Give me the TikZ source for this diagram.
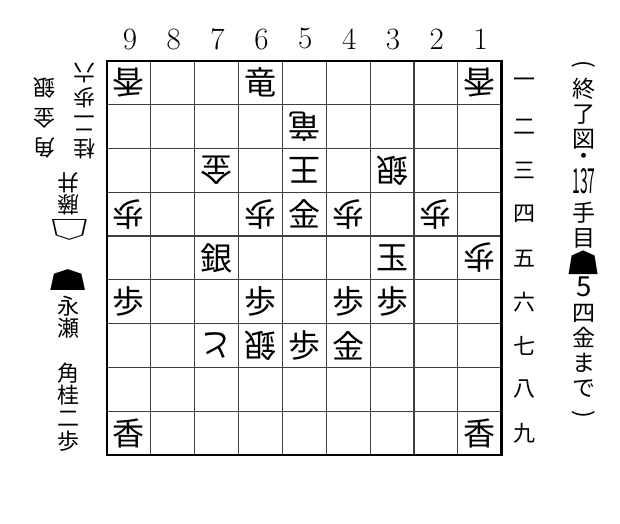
\documentclass[tikz,border=0pt]{standalone}
\usepackage{graphicx}
\usepackage{fontspec}
\newfontfamily\jp{Noto Sans CJK JP}
\usetikzlibrary{positioning}
\tikzset{
node distance=43.85pt, % one square of the board
piece/.style={font=\jp\fontsize{32}{32}\selectfont, inner sep=0pt}, % a piece of the player to move up
gote/.style={piece, rotate=180}, % the other player's pieces stand upside down
filenum/.style={font=\fontsize{31}{31}\selectfont, inner sep=0pt}, % 9 ... 1 above the board
ranknum/.style={font=\jp\fontsize{22}{22}\selectfont, inner sep=0pt}, % kanji numbers at the right
hand/.style={font=\jp\fontsize{22}{22.7}\selectfont, align=center, inner sep=0pt}, % names and pieces in hand
gotehand/.style={font=\jp\fontsize{22}{22}\selectfont, inner sep=0pt, rotate=180}, % one upside-down letter
gridline/.style={line width=1.1pt, black!75},
frame/.style={line width=2.4pt},
}
\newcommand{\wideblack}{\scalebox{2.0}[1.1]{☗}} % the pentagon marks are wider than the font's
\newcommand{\widewhite}{\scalebox{2.0}[1.1]{☖}}

\begin{document}
\begin{tikzpicture}[x=1pt, y=1pt]
        \useasboundingbox (0,0) rectangle (620,-523);

        % the board
        \begin{scope}[shift={(107,-455)}, x=43.85pt, y=43.8pt]
        \draw[gridline, xstep=43.85pt, ystep=43.8pt] (0,0) grid (9,9);
        \draw[frame] (0,0) rectangle (9,9);

        \node[gote] (p91) at (0.5,8.5) {香};
        \node[piece] (p61) at (3.5,8.5) {竜};
        \node[gote] (p11) at (8.5,8.5) {香};
        \node[gote] (p52) at (4.5,7.5) {竜};
        \node[gote] (p73) at (2.5,6.5) {金};
        \node[gote] (p53) at (4.5,6.5) {王};
        \node[gote] (p33) at (6.5,6.5) {銀};
        \node[gote] (p94) at (0.5,5.5) {歩};
        \node[gote] (p64) at (3.5,5.5) {歩};
        \node[piece] (p54) at (4.5,5.5) {金};
        \node[gote] (p44) at (5.5,5.5) {歩};
        \node[gote] (p24) at (7.5,5.5) {歩};
        \node[piece] (p75) at (2.5,4.5) {銀};
        \node[piece] (p35) at (6.5,4.5) {玉};
        \node[gote] (p15) at (8.5,4.5) {歩};
        \node[piece] (p96) at (0.5,3.5) {歩};
        \node[piece] (p66) at (3.5,3.5) {歩};
        \node[piece] (p46) at (5.5,3.5) {歩};
        \node[piece] (p36) at (6.5,3.5) {歩};
        \node[gote] (p77) at (2.5,2.5) {と};
        \node[gote] (p67) at (3.5,2.5) {銀};
        \node[piece] (p57) at (4.5,2.5) {歩};
        \node[piece] (p47) at (5.5,2.5) {金};
        \node[piece] (p99) at (0.5,0.5) {香};
        \node[piece] (p19) at (8.5,0.5) {香};
        \end{scope}

        % files and ranks
        \node[filenum] (c9) at (129.9,-39) {9};
        \node[filenum, right of=c9] (c8) {8};
        \node[filenum, right of=c8] (c7) {7};
        \node[filenum, right of=c7] (c6) {6};
        \node[filenum, right of=c6] (c5) {5};
        \node[filenum, right of=c5] (c4) {4};
        \node[filenum, right of=c4] (c3) {3};
        \node[filenum, right of=c3] (c2) {2};
        \node[filenum, right of=c2] (c1) {1};

        \node[ranknum] (r1) at (524,-82.9) {一};
        \node[ranknum, below of=r1, node distance=43.8pt] (r2) {二};
        \node[ranknum, below of=r2, node distance=43.8pt] (r3) {三};
        \node[ranknum, below of=r3, node distance=43.8pt] (r4) {四};
        \node[ranknum, below of=r4, node distance=43.8pt] (r5) {五};
        \node[ranknum, below of=r5, node distance=43.8pt] (r6) {六};
        \node[ranknum, below of=r6, node distance=43.8pt] (r7) {七};
        \node[ranknum, below of=r7, node distance=43.8pt] (r8) {八};
        \node[ranknum, below of=r8, node distance=43.8pt] (r9) {九};

        % the players
        \node[hand, rotate=180] (gmark) at (69,-230) {\widewhite};
        \node[hand, rotate=180, font=\jp\fontsize{22}{22}\selectfont] (gname) at (68,-194) {藤\\井};
        \node[gotehand] (ga1) at (44,-148) {角};
        \node[gotehand] (ga2) at (44,-118) {金};
        \node[gotehand] (ga3) at (44,-88) {銀};
        \node[hand, rotate=180, font=\jp\fontsize{22}{25.3}\selectfont] (ghandB) at (84,-111) {桂\\二\\歩\\六};
        \node[hand] (smark) at (68,-280) {\wideblack};
        \node[hand, font=\jp\fontsize{22}{22}\selectfont] (sname) at (68,-317) {永\\瀬};
        \node[hand] (shand) at (68,-407) {角\\桂\\二\\歩};

        % caption
        \node[hand, font=\jp\fontsize{23}{25}\selectfont] (title) at (584,-241)
            {\rotatebox[origin=c]{-90}{(}\\終\\了\\図\\[-8pt]・\\[3pt]\scalebox{0.6}[1.5]{137}\\[3pt]手\\目\\\raisebox{-2pt}{\smash{\scalebox{1.6}[1.2]{☗}}}\\\scalebox{1.2}{5}\\四\\金\\ま\\で\\\rotatebox[origin=c]{-90}{)}};

    \end{tikzpicture}
\end{document}
